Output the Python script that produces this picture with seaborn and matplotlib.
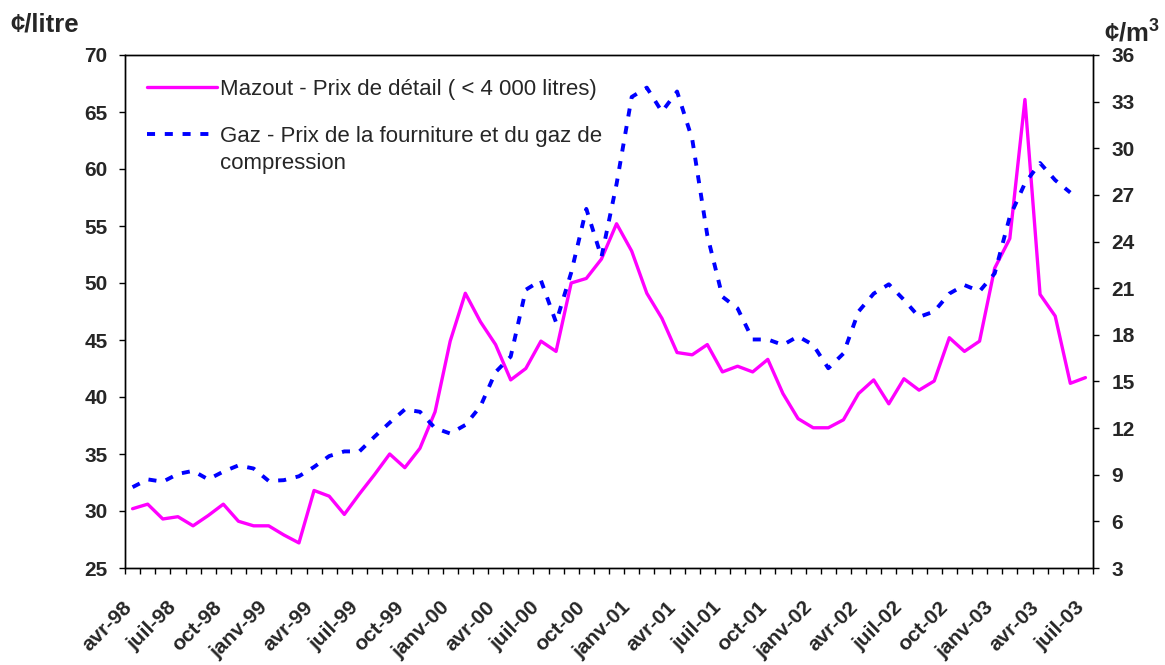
import numpy as np
import pandas as pd
import matplotlib
matplotlib.use("Agg")
import matplotlib.pyplot as plt
import matplotlib.transforms as mtransforms
import seaborn as sns

# ---- data ----
tick_labels = ["avr-98", "juil-98", "oct-98", "janv-99", "avr-99", "juil-99", "oct-99",
               "janv-00", "avr-00", "juil-00", "oct-00", "janv-01", "avr-01", "juil-01",
               "oct-01", "janv-02", "avr-02", "juil-02", "oct-02", "janv-03", "avr-03", "juil-03"]

mazout = [30.2, 30.6, 29.3, 29.5, 28.7, 29.6, 30.6, 29.1, 28.7, 28.7,
          27.9, 27.2, 31.8, 31.3, 29.7, 31.5, 33.2, 35.0, 33.8, 35.5,
          38.7, 44.9, 49.1, 46.6, 44.6, 41.5, 42.5, 44.9, 44.0, 50.0,
          50.4, 52.1, 55.2, 52.8, 49.1, 46.9, 43.9, 43.7, 44.6, 42.2,
          42.7, 42.2, 43.3, 40.3, 38.1, 37.3, 37.3, 38.0, 40.3, 41.5,
          39.4, 41.6, 40.6, 41.4, 45.2, 44.0, 44.9, 51.3, 53.9, 66.1,
          49.0, 47.1, 41.2, 41.7]

gaz = [8.2, 8.7, 8.55, 9.05, 9.25, 8.7, 9.2, 9.6, 9.4, 8.6,
       8.65, 8.9, 9.5, 10.2, 10.5, 10.5, 11.45, 12.35, 13.2, 13.05,
       12.0, 11.65, 12.2, 13.4, 15.6, 16.6, 20.9, 21.5, 18.8, 22.0,
       26.1, 23.0, 27.7, 33.3, 33.9, 32.35, 33.65, 30.6, 24.4, 20.45,
       19.7, 17.7, 17.7, 17.35, 17.9, 17.35, 15.85, 16.8, 19.5, 20.65,
       21.25, 20.25, 19.15, 19.5, 20.65, 21.2, 20.8, 21.95, 25.6, 27.75,
       29.05, 27.95, 27.15, np.nan]

label_mazout = "Mazout - Prix de détail ( < 4 000 litres)"
label_gaz_l1 = "Gaz - Prix de la fourniture et du gaz de"
label_gaz_l2 = "compression"

# ---- style ----
sns.set_theme(style="white")
plt.rcParams["font.family"] = ["Liberation Sans", "DejaVu Sans"]
plt.rcParams["lines.scale_dashes"] = False
plt.rcParams["mathtext.fontset"] = "custom"
plt.rcParams["mathtext.bf"] = "Liberation Sans:bold"
plt.rcParams["mathtext.rm"] = "Liberation Sans:bold"

W, H = 1165, 665
fig = plt.figure(figsize=(W / 100, H / 100), dpi=100)
left, right, top, bottom = 125, 1093, 55, 568
ax = fig.add_axes([left / W, 1 - bottom / H, (right - left) / W, (bottom - top) / H])
ax2 = ax.twinx()

n = len(mazout)
df = pd.DataFrame({"idx": np.arange(n), "mazout": mazout, "gaz": gaz})

sns.lineplot(data=df, x="idx", y="mazout", ax=ax, color="#FF00FF", linewidth=2.4)
sns.lineplot(data=df.dropna(), x="idx", y="gaz", ax=ax2, color="#0000FF", linewidth=2.8)
l1 = ax.lines[0]
l2 = ax2.lines[0]
l2.set_linestyle((0, (5.8, 7.0)))
l2.set_dash_capstyle("butt")

for a in (ax, ax2):
    a.set_xlim(-0.5, n - 0.5)
    a.set_xlabel("")
    a.set_ylabel("")
    for s in a.spines.values():
        s.set_visible(True)
        s.set_color("black")
        s.set_linewidth(1.0)

ax.set_ylim(25, 70)
ax.set_yticks(np.arange(25, 71, 5))
ax2.set_ylim(3, 36)
ax2.set_yticks(np.arange(3, 37, 3))

# x ticks: labels at category centers, marks at boundaries
ax.set_xticks(np.arange(0, n, 3))
ax.set_xticklabels(tick_labels, rotation=45, ha="right", va="center",
                   rotation_mode="anchor", fontsize=15, fontweight="bold")
ax.set_xticks(np.arange(-0.5, n, 1), minor=True)
ax.tick_params(axis="x", which="major", length=0, pad=26)
ax.tick_params(axis="x", which="minor", bottom=True, length=4.5, width=1, color="black", direction="out")
offset = mtransforms.ScaledTranslation(-4 / 100, 0, fig.dpi_scale_trans)
for lab in ax.get_xticklabels():
    lab.set_transform(lab.get_transform() + offset)

ax.tick_params(axis="y", which="major", left=True, length=4.5, width=1, color="black",
               direction="out", pad=8, labelsize=15)
ax2.tick_params(axis="y", which="major", right=True, length=4.5, width=1, color="black",
                direction="out", pad=9, labelsize=15)
for lab in ax.get_yticklabels() + ax2.get_yticklabels():
    lab.set_fontweight("bold")
ax2.tick_params(axis="x", which="both", length=0)

# unit labels
fig.text(10 / W, 1 - 25 / H, "¢/litre", fontsize=18.5, fontweight="bold", ha="left", va="center")
fig.text(1104 / W, 1 - 32 / H, r"¢/m$^{3}$", fontsize=18.5, fontweight="bold", ha="left", va="center")

# legend
leg = ax2.legend(handles=[l1, l2], labels=[label_mazout, label_gaz_l1],
                 loc="upper left", bbox_to_anchor=(147 / W, 1 - 79 / H),
                 bbox_transform=fig.transFigure, frameon=False, fontsize=16,
                 handlelength=3.15, handletextpad=0.15, labelspacing=1.17,
                 borderpad=0, borderaxespad=0)
fig.canvas.draw()
t2 = leg.get_texts()[1]
bb = t2.get_window_extent()
fig.text(bb.x0 / W, (bb.y0 - 27) / H, label_gaz_l2, fontsize=16, ha="left", va="bottom",
         color=t2.get_color())

fig.savefig("out.png", dpi=100)
